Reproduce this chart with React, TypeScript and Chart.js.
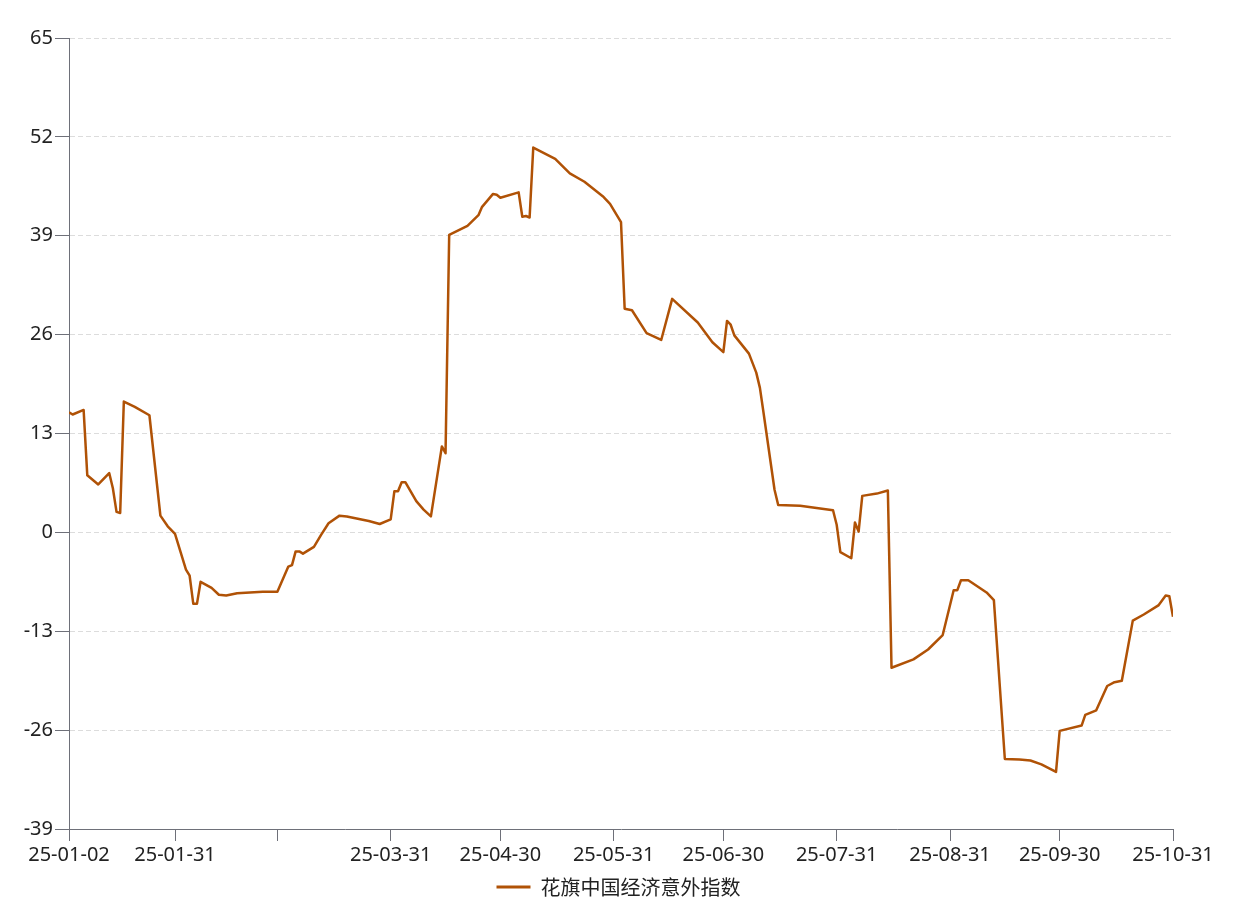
import React, { useEffect, useRef } from "react";
import { Chart, registerables } from "chart.js";

Chart.register(...registerables);

const SERIES_NAME = "花旗中国经济意外指数";
const LINE_COLOR = "#B05206";

const dates: string[] = [
  "2025-01-02", "2025-01-03", "2025-01-06", "2025-01-07", "2025-01-10", "2025-01-13", "2025-01-14",
  "2025-01-15", "2025-01-16", "2025-01-17", "2025-01-20", "2025-01-24", "2025-01-27", "2025-01-29",
  "2025-01-31", "2025-02-03", "2025-02-04", "2025-02-05", "2025-02-06", "2025-02-07", "2025-02-10",
  "2025-02-12", "2025-02-14", "2025-02-17", "2025-02-24", "2025-02-28", "2025-03-03", "2025-03-04",
  "2025-03-05", "2025-03-06", "2025-03-07", "2025-03-10", "2025-03-12", "2025-03-14", "2025-03-17",
  "2025-03-19", "2025-03-25", "2025-03-28", "2025-03-31", "2025-04-01", "2025-04-02", "2025-04-03",
  "2025-04-04", "2025-04-07", "2025-04-09", "2025-04-11", "2025-04-14", "2025-04-15", "2025-04-16",
  "2025-04-21", "2025-04-24", "2025-04-25", "2025-04-28", "2025-04-29", "2025-04-30", "2025-05-05",
  "2025-05-06", "2025-05-07", "2025-05-08", "2025-05-09", "2025-05-15", "2025-05-19", "2025-05-23",
  "2025-05-28", "2025-05-30", "2025-06-02", "2025-06-03", "2025-06-05", "2025-06-09", "2025-06-13",
  "2025-06-16", "2025-06-23", "2025-06-27", "2025-06-30", "2025-07-01", "2025-07-02", "2025-07-03",
  "2025-07-07", "2025-07-09", "2025-07-10", "2025-07-11", "2025-07-14", "2025-07-15", "2025-07-21",
  "2025-07-24", "2025-07-30", "2025-07-31", "2025-08-01", "2025-08-04", "2025-08-05", "2025-08-06",
  "2025-08-07", "2025-08-11", "2025-08-14", "2025-08-15", "2025-08-21", "2025-08-25", "2025-08-29",
  "2025-09-01", "2025-09-02", "2025-09-03", "2025-09-05", "2025-09-10", "2025-09-12", "2025-09-15",
  "2025-09-19", "2025-09-22", "2025-09-25", "2025-09-29", "2025-09-30", "2025-10-06", "2025-10-07",
  "2025-10-10", "2025-10-13", "2025-10-15", "2025-10-17", "2025-10-20", "2025-10-23", "2025-10-27",
  "2025-10-29", "2025-10-30", "2025-10-31",
];

const values: number[] = [
  15.8, 15.5, 16.1, 7.5, 6.3, 7.8, 5.8,
  2.7, 2.55, 17.2, 16.5, 15.4, 2.2, 0.8,
  -0.2, -4.9, -5.7, -9.4, -9.4, -6.5, -7.3,
  -8.2, -8.3, -8.0, -7.8, -7.8, -4.5, -4.3,
  -2.5, -2.5, -2.8, -1.9, -0.3, 1.2, 2.2,
  2.1, 1.5, 1.1, 1.7, 5.4, 5.4, 6.6,
  6.6, 4.1, 3.0, 2.1, 11.3, 10.4, 39.1,
  40.3, 41.7, 42.8, 44.5, 44.4, 44.0, 44.7,
  41.5, 41.6, 41.4, 50.6, 49.1, 47.2, 46.1,
  44.2, 43.2, 40.8, 29.4, 29.2, 26.2, 25.3,
  30.7, 27.6, 25.0, 23.7, 27.8, 27.3, 25.9,
  23.5, 21.0, 19.0, 15.7, 5.6, 3.6, 3.5,
  3.3, 2.9, 1.0, -2.6, -3.4, 1.3, 0.1,
  4.8, 5.1, 5.5, -17.8, -16.7, -15.4, -13.5,
  -7.6, -7.6, -6.3, -6.3, -7.9, -8.9, -29.8,
  -29.85, -30.0, -30.5, -31.5, -26.1, -25.4, -24.0,
  -23.4, -20.2, -19.7, -19.5, -11.6, -10.8, -9.6,
  -8.3, -8.4, -11.1,
];

const tickDates: string[] = [
  "2025-01-02", "2025-01-31", "2025-02-28", "2025-03-31", "2025-04-30", "2025-05-31",
  "2025-06-30", "2025-07-31", "2025-08-31", "2025-09-30", "2025-10-31",
];
const tickLabels: string[] = [
  "25-01-02", "25-01-31", "", "25-03-31", "25-04-30", "25-05-31",
  "25-06-30", "25-07-31", "25-08-31", "25-09-30", "25-10-31",
];

const Y_MIN = -39;
const Y_MAX = 65;
const Y_STEP = 13;

const START = Date.UTC(2025, 0, 2);
function dayOf(s: string): number {
  const [y, m, d] = s.split("-").map(Number);
  return Math.round((Date.UTC(y, m - 1, d) - START) / 86400000);
}

export default function App() {
  const ref = useRef<HTMLCanvasElement | null>(null);

  useEffect(() => {
    document.body.style.margin = "0";
    const canvas = ref.current;
    if (!canvas) return;
    const tickDays = tickDates.map(dayOf);
    const points = dates.map((d, i) => ({ x: dayOf(d), y: values[i] }));
    const axisColor = "#6E7079";
    const textColor = "#222";

    const chart = new Chart(canvas, {
      type: "line",
      data: {
        datasets: [
          {
            label: SERIES_NAME,
            data: points,
            borderColor: LINE_COLOR,
            backgroundColor: LINE_COLOR,
            borderWidth: 2.5,
            pointRadius: 0,
            pointHoverRadius: 0,
            tension: 0,
            borderJoinStyle: "round",
            fill: false,
            yAxisID: "y",
          },
        ],
      },
      options: {
        animation: false,
        responsive: false,
        devicePixelRatio: 1,
        layout: { padding: { top: 38, left: 0, right: 6, bottom: 7 } },
        plugins: {
          tooltip: { enabled: false },
          legend: {
            position: "bottom",
            labels: {
              boxWidth: 34,
              boxHeight: 3,
              padding: 10,
              color: textColor,
              font: { family: "'Noto Sans CJK SC', sans-serif", size: 20 },
              generateLabels: (c: any) =>
                Chart.defaults.plugins.legend.labels
                  .generateLabels(c)
                  .map((l: any) => ({ ...l, lineWidth: 0, fillStyle: LINE_COLOR, strokeStyle: LINE_COLOR })),
            },
          },
        },
        scales: {
          x: {
            type: "linear",
            min: tickDays[0],
            max: tickDays[tickDays.length - 1],
            afterBuildTicks: (scale: any) => {
              scale.ticks = tickDays.map((v) => ({ value: v }));
            },
            afterFit: (scale: any) => {
              scale.height = 38;
            },
            ticks: {
              autoSkip: false,
              maxRotation: 0,
              padding: 2,
              color: textColor,
              font: { family: "'Noto Sans', sans-serif", size: 20 },
              callback: (value: any) => {
                const idx = tickDays.indexOf(Number(value));
                return idx >= 0 ? tickLabels[idx] : "";
              },
            },
            grid: {
              drawOnChartArea: false,
              tickLength: 12,
              tickColor: axisColor,
              color: axisColor,
            },
            border: { color: axisColor, width: 1 },
          },
          y: {
            type: "linear",
            position: "left",
            min: Y_MIN,
            max: Y_MAX,
            afterFit: (scale: any) => {
              scale.width = 69;
            },
            ticks: {
              stepSize: Y_STEP,
              padding: 2,
              color: textColor,
              font: { family: "'Noto Sans', sans-serif", size: 20 },
            },
            grid: {
              tickLength: 14,
              tickColor: axisColor,
              color: (ctx: any) => (ctx.tick && ctx.tick.value === Y_MIN ? "rgba(0,0,0,0)" : "#DCDCDC"),
              lineWidth: 1,
            },
            border: { color: axisColor, width: 1, dash: [5, 3] },
          },
          yRight: {
            type: "linear",
            position: "right",
            display: true,
            min: Y_MIN,
            max: Y_MAX,
            afterFit: (scale: any) => {
              scale.width = 64;
            },
            ticks: { display: false },
            grid: { display: false, drawTicks: false },
            border: { display: false },
          },
        },
      },
    });
    return () => chart.destroy();
  }, []);

  return (
    <div style={{ position: "relative", width: 1243, height: 914, background: "#fff" }}>
      <canvas ref={ref} width={1243} height={914} style={{ display: "block" }} />
    </div>
  );
}
